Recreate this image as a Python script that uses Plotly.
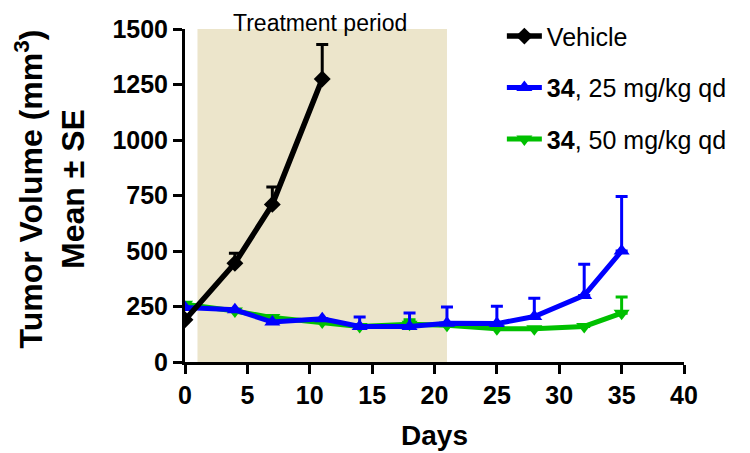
import plotly.graph_objects as go

days_vehicle = [0, 4, 7, 11]
vehicle_mean = [190, 445, 710, 1275]
vehicle_se = [0, 45, 78, 155]

days_34 = [0, 4, 7, 11, 14, 18, 21, 25, 28, 32, 35]
d25_mean = [245, 235, 180, 195, 160, 160, 175, 173, 205, 300, 500]
d25_se = [0, 0, 0, 0, 43, 61, 73, 78, 82, 140, 246]
d50_mean = [260, 230, 200, 180, 160, 170, 165, 150, 150, 160, 220]
d50_se = [0, 0, 0, 0, 0, 20, 0, 0, 0, 0, 73]

treat_start, treat_end = 1, 21

font_fam = "Liberation Sans, Arial, sans-serif"

fig = go.Figure()

fig.add_shape(type="rect", xref="x", yref="y", x0=treat_start, x1=treat_end, y0=0, y1=1500,
              fillcolor="#ECE5CB", line_width=0, layer="below")

def err(arr, color):
    return dict(type="data", symmetric=False, array=arr, arrayminus=[0]*len(arr),
                color=color, thickness=3, width=6)

fig.add_trace(go.Scatter(x=days_34, y=d50_mean, name="<b>34</b>, 50 mg/kg qd",
                         mode="lines+markers", legendrank=3, legendgroup="c",
                         line=dict(color="#00C000", width=5),
                         marker=dict(symbol="triangle-down", size=14, color="#00C000"),
                         error_y=err(d50_se, "#00C000")))
fig.add_trace(go.Scatter(x=days_34, y=d25_mean, name="<b>34</b>, 25 mg/kg qd",
                         mode="lines+markers", legendrank=2, legendgroup="b",
                         line=dict(color="#0000FF", width=5),
                         marker=dict(symbol="triangle-up", size=14, color="#0000FF"),
                         error_y=err(d25_se, "#0000FF")))
fig.add_trace(go.Scatter(x=days_vehicle, y=vehicle_mean, name="Vehicle",
                         mode="lines+markers", legendrank=1, legendgroup="a",
                         line=dict(color="#000000", width=5.5),
                         marker=dict(symbol="diamond", size=13, color="#000000"),
                         error_y=err(vehicle_se, "#000000")))

fig.add_annotation(x=10.8, y=1, xref="x", yref="paper", yanchor="top", yshift=21,
                   text="Treatment period", showarrow=False,
                   font=dict(family=font_fam, size=23, color="black"))

fig.add_annotation(x=0, y=0.5, xref="paper", yref="paper", xanchor="right", yanchor="middle",
                   xshift=-93, yshift=6, textangle=-90, showarrow=False,
                   text="<b>Tumor Volume (mm<sup>3</sup>)<br>Mean ± SE</b>",
                   font=dict(family=font_fam, size=32, color="black"))

fig.update_layout(
    width=742, height=445,
    margin=dict(l=177, r=66, t=21, b=91, autoexpand=False),
    plot_bgcolor="white", paper_bgcolor="white",
    font=dict(family=font_fam, color="black"),
    showlegend=True,
    legend=dict(x=0.635, y=1.047, xanchor="left", yanchor="top",
                font=dict(family=font_fam, size=25, color="black"),
                bgcolor="rgba(0,0,0,0)", tracegroupgap=16, itemwidth=35,
                traceorder="grouped"),
    xaxis=dict(range=[0, 40], tickvals=[0, 5, 10, 15, 20, 25, 30, 35, 40],
               showline=True, linecolor="black", linewidth=3, automargin=False,
               ticks="outside", ticklen=9, tickwidth=3, tickcolor="black",
               showgrid=False, zeroline=False,
               tickfont=dict(family=font_fam, size=25, color="black", weight="bold"),
               title=dict(text="<b>Days</b>", font=dict(family=font_fam, size=28), standoff=18)),
    yaxis=dict(range=[0, 1500], tickvals=[0, 250, 500, 750, 1000, 1250, 1500],
               showline=True, linecolor="black", linewidth=3, automargin=False,
               ticks="outside", ticklen=9, tickwidth=3, tickcolor="black",
               showgrid=False, zeroline=False,
               tickfont=dict(family=font_fam, size=25, color="black", weight="bold")),
)

fig.write_html("out.html")
